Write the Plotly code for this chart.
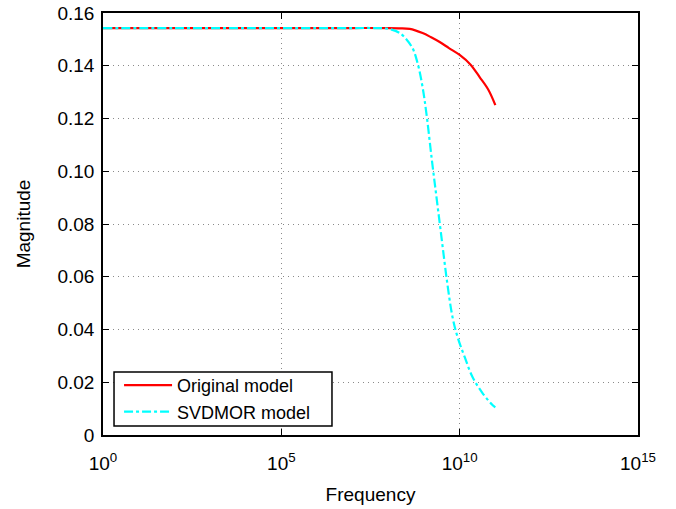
import plotly.graph_objects as go

# Frequencies (Hz) and magnitudes
orig_freq = [1e0, 1e2, 1e4, 1e6, 1e7, 1e8, 10**8.3, 10**8.6, 10**8.96, 10**9.2, 10**9.44,
             10**9.7, 10**10.0, 10**10.3, 10**10.56, 10**10.8, 10**11.0]
orig_mag = [0.1543, 0.1543, 0.1543, 0.1543, 0.1543, 0.1543, 0.1542, 0.1540, 0.1524, 0.1508, 0.1490,
            0.1467, 0.1441, 0.1405, 0.1357, 0.1310, 0.1251]

svd_freq = [1e0, 1e2, 1e4, 1e6, 1e7, 10**7.6, 10**7.96, 10**8.32, 10**8.66, 10**8.82, 10**8.96,
            10**9.08, 10**9.22, 10**9.36, 10**9.5, 10**9.64, 10**9.8, 10**9.94, 10**10.14,
            10**10.36, 10**10.64, 10**10.92, 10**11.0]
svd_mag = [0.1543, 0.1543, 0.1543, 0.1543, 0.1543, 0.1543, 0.1541, 0.1524, 0.1471, 0.1410, 0.1319,
           0.1206, 0.1043, 0.0891, 0.0739, 0.0588, 0.0447, 0.0372, 0.0296,
           0.0220, 0.0159, 0.0114, 0.0105]

x_tickvals = [1e0, 1e5, 1e10, 1e15]
x_ticktext = ["10<sup>0</sup>", "10<sup>5</sup>", "10<sup>10</sup>", "10<sup>15</sup>"]
y_tickvals = [0, 0.02, 0.04, 0.06, 0.08, 0.10, 0.12, 0.14, 0.16]
y_ticktext = ["0", "0.02", "0.04", "0.06", "0.08", "0.10", "0.12", "0.14", "0.16"]

fig = go.Figure()
fig.add_trace(go.Scatter(x=orig_freq, y=orig_mag, mode="lines", name="Original model",
                         line=dict(color="#ff0000", width=2.2, shape="spline")))
fig.add_trace(go.Scatter(x=svd_freq, y=svd_mag, mode="lines", name="SVDMOR model",
                         line=dict(color="#00ffff", width=2.2, dash="dashdot", shape="spline")))

font = "Liberation Sans, Arial, sans-serif"
axis_common = dict(showline=True, linecolor="black", linewidth=1.5, mirror="ticks",
                   ticks="inside", ticklen=6, tickcolor="black", tickwidth=1,
                   showgrid=True, gridcolor="#8a8a8a", griddash="1px,4px", gridwidth=1,
                   zeroline=False, automargin=False,
                   tickfont=dict(family=font, size=19, color="black"))

# legend frame drawn as a white box (paper coords inside plot area)
fig.add_shape(type="rect", xref="x domain", yref="y domain",
              x0=0.0206, x1=0.428, y0=0.0213, y1=0.149,
              line=dict(color="black", width=1.5), fillcolor="white", layer="above")

fig.update_layout(
    width=676, height=509,
    margin=dict(l=103, r=38, t=13, b=74),
    plot_bgcolor="white", paper_bgcolor="white",
    font=dict(family=font, color="black"),
    xaxis=dict(type="log", range=[0, 15], tickvals=x_tickvals, ticktext=x_ticktext,
               ticklabelstandoff=10,
               title=dict(text="Frequency", font=dict(family=font, size=19), standoff=15),
               **axis_common),
    yaxis=dict(range=[0, 0.16], tickvals=y_tickvals, ticktext=y_ticktext,
               ticklabelstandoff=3,
               title=dict(text="Magnitude", font=dict(family=font, size=19), standoff=22),
               **axis_common),
    legend=dict(x=0.03, y=0.0118, xanchor="left", yanchor="bottom",
                borderwidth=0, bgcolor="rgba(0,0,0,0)",
                font=dict(family=font, size=18), tracegroupgap=0, itemwidth=48),
    showlegend=True,
)

fig.write_html("out.html", post_script="document.body.style.margin='0';",
               config={"displayModeBar": False})
